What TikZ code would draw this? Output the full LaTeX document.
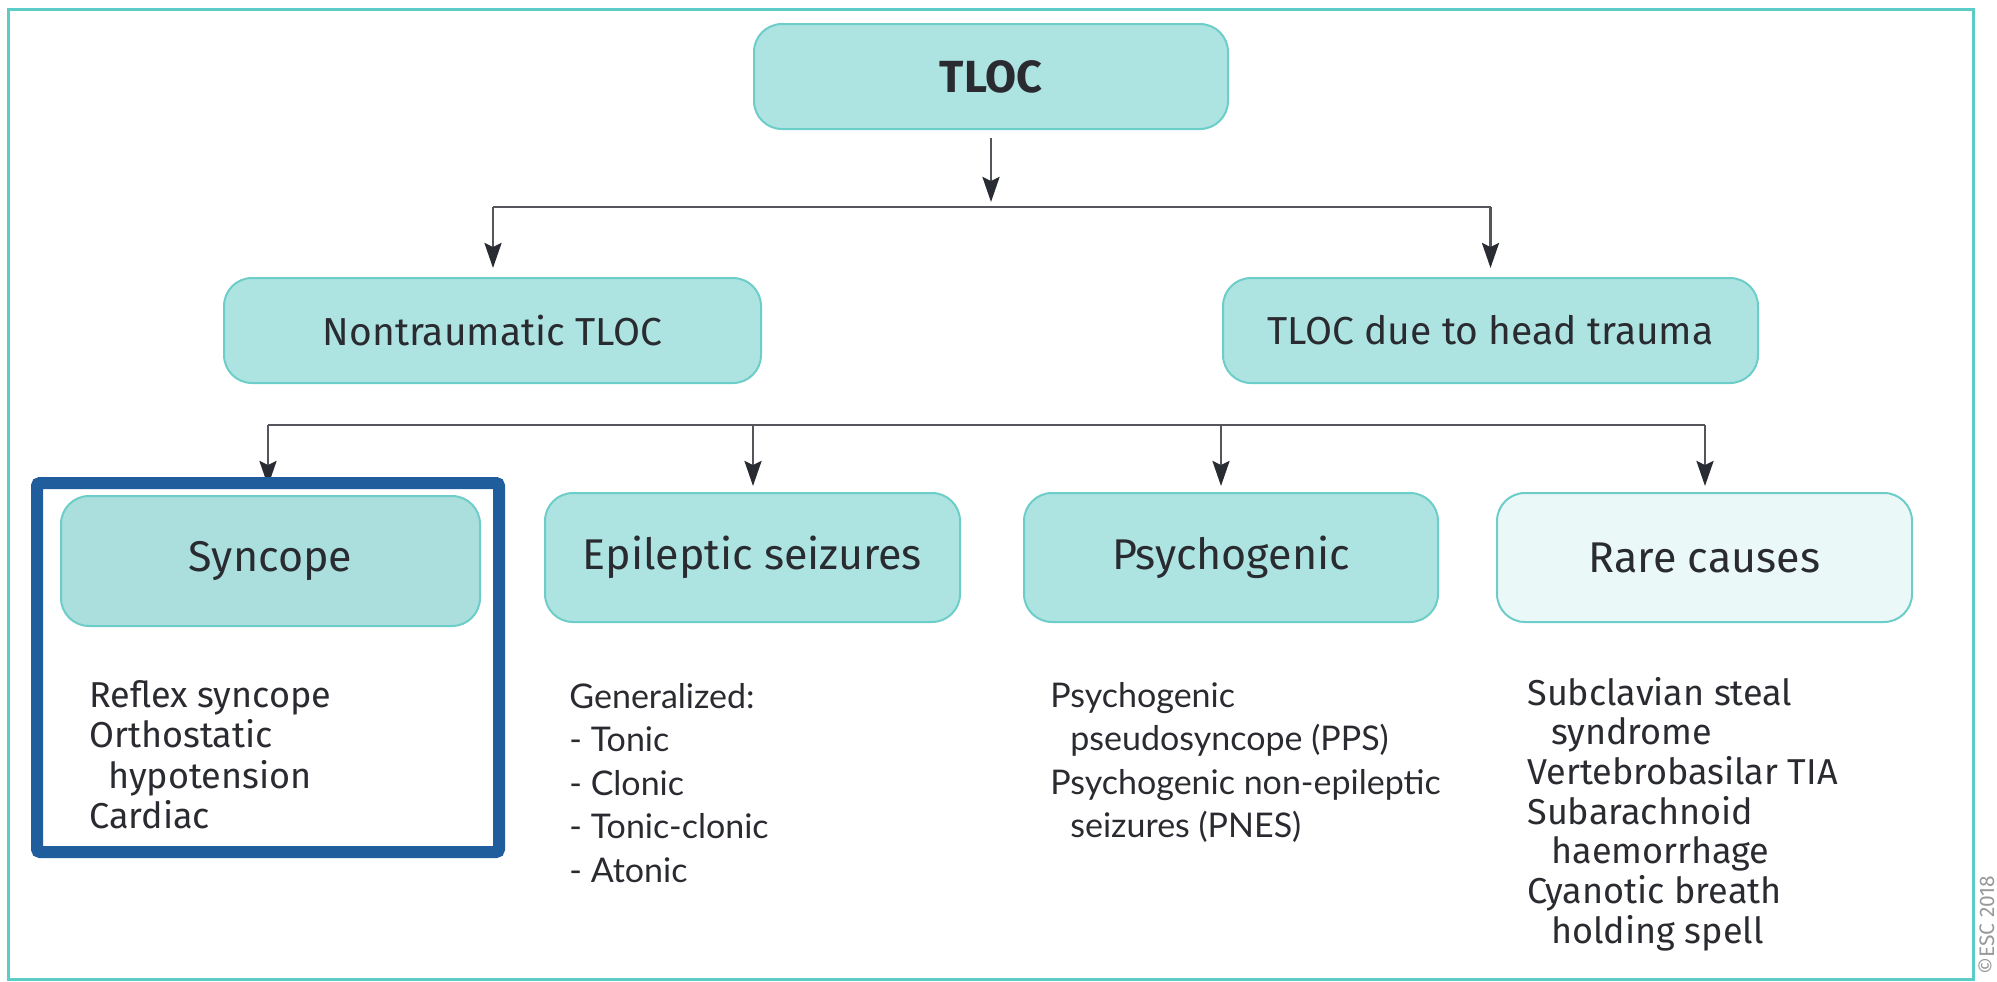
\documentclass[tikz,border=0pt]{standalone}
\usepackage{fontspec}
\setmainfont{Fira Sans}
\newfontfamily\latofont{Lato}
\usetikzlibrary{arrows.meta}
\definecolor{boxfill}{HTML}{ADE4E2}
\definecolor{synfill}{HTML}{AADFDD}
\definecolor{rarefill}{HTML}{EBF8F8}
\definecolor{boxline}{HTML}{6DCDC8}
\definecolor{framecol}{HTML}{5DCBC6}
\definecolor{hiblue}{HTML}{1F5D9C}
\definecolor{linegray}{HTML}{55565B}
\definecolor{tipdark}{HTML}{2A2C33}
\definecolor{txt}{HTML}{2A2B30}
\newcommand{\listbox}[1]{\begin{tabular}[t]{@{}l@{}}#1\end{tabular}}
\begin{document}
\begin{tikzpicture}[x=0.5pt,y=-0.5pt,
  box/.style={draw=boxline, fill=boxfill, line width=1pt, rounded corners=14pt,
    inner sep=0pt, text=txt, align=center},
  toplabel/.style={font=\fontsize{22.5}{26}\selectfont\bfseries},
  midlabel/.style={font=\fontsize{19.5}{23}\selectfont},
  lowlabel/.style={font=\fontsize{21.5}{25}\selectfont},
  arr/.style={draw=linegray, line width=1.3pt, -{Stealth[length=12.5pt,width=8.5pt,inset=2pt,color=tipdark]}},
  bar/.style={draw=linegray, line width=1.3pt},
  listA/.style={anchor=base west, inner sep=0pt, text=txt, font=\fontsize{18}{20.25}\selectfont},
  listB/.style={anchor=base west, inner sep=0pt, text=txt, font=\latofont\fontsize{17}{21.75}\selectfont},
]
\useasboundingbox (0,0) rectangle (1997,981);
% outer frame
\draw[framecol, line width=1.5pt] (8,9) rectangle (1973,979);

% nodes
\node[box, toplabel, minimum width=237pt, minimum height=52.5pt] (tloc) at (991,76.5) {TLOC};
\node[box, midlabel, minimum width=268.5pt, minimum height=52.5pt] (nontr) at (492.5,330.5) {Nontraumatic TLOC};
\node[box, midlabel, minimum width=267.5pt, minimum height=52.5pt] (head) at (1490.5,330.5) {TLOC due to head trauma};

\node[box, lowlabel, fill=synfill, minimum width=209.5pt, minimum height=65pt] (syn) at (270.5,561) {Syncope};
\node[box, lowlabel, minimum width=207.5pt, minimum height=64.5pt] (epi) at (752.5,557.5) {Epileptic seizures};
\node[box, lowlabel, minimum width=207pt, minimum height=64.5pt] (psy) at (1231,557.5) {Psychogenic};
\node[box, lowlabel, fill=rarefill, minimum width=207.5pt, minimum height=64.5pt] (rare) at (1704.5,557.5) {Rare causes};

% lists
\node[listA] (synlist) at (89,707) {\listbox{Reflex syncope\\Orthostatic\\\hspace*{9.5pt}hypotension\\Cardiac}};
\node[listB] (epilist) at (569,708) {\listbox{Generalized:\\- Tonic\\- Clonic\\- Tonic-clonic\\- Atonic}};
\node[listB] (psylist) at (1050,707) {\listbox{Psychogenic\\\hspace*{10pt}pseudosyncope (PPS)\\Psychogenic non-epileptic\\\hspace*{10pt}seizures (PNES)}};
\node[listA, font=\fontsize{18}{19.75}\selectfont] (rarelist) at (1527,705) {\listbox{Subclavian steal\\\hspace*{12pt}syndrome\\Vertebrobasilar TIA\\Subarachnoid\\\hspace*{12pt}haemorrhage\\Cyanotic breath\\\hspace*{12pt}holding spell}};

% first level connectors
\coordinate (b1L) at (493,207);
\coordinate (b1R) at (1490.5,207);
\draw[bar] (b1L) -- (b1R);
\draw[arr] ([yshift=-4pt]tloc.south) -- ([yshift=2.5pt]tloc.south |- b1L);
\draw[arr] (b1L) -- ([yshift=4.5pt]b1L |- nontr.north);
\draw[arr] (b1R) -- ([yshift=4.5pt]b1R |- head.north);

% second level connectors
\coordinate (b2a) at (268,425);
\coordinate (b2b) at (753,425);
\coordinate (b2c) at (1221,425);
\coordinate (b2d) at (1705,425);
\draw[bar] (b2a) -- (b2d);
\draw[arr] (b2a) -- ([yshift=4.5pt]b2a |- syn.north);
\draw[arr] (b2b) -- ([yshift=3pt]b2b |- epi.north);
\draw[arr] (b2c) -- ([yshift=3pt]b2c |- psy.north);
\draw[arr] (b2d) -- ([yshift=3pt]b2d |- rare.north);

% highlight frame
\draw[hiblue, line width=6pt, rounded corners=1.5pt] (37,483) rectangle (499,852);

% copyright
\node[rotate=90, anchor=north west, inner sep=0pt, text=gray!80, font=\fontsize{10.5}{12}\selectfont] (copy) at (1978,975) {©ESC 2018};
\end{tikzpicture}
\end{document}
